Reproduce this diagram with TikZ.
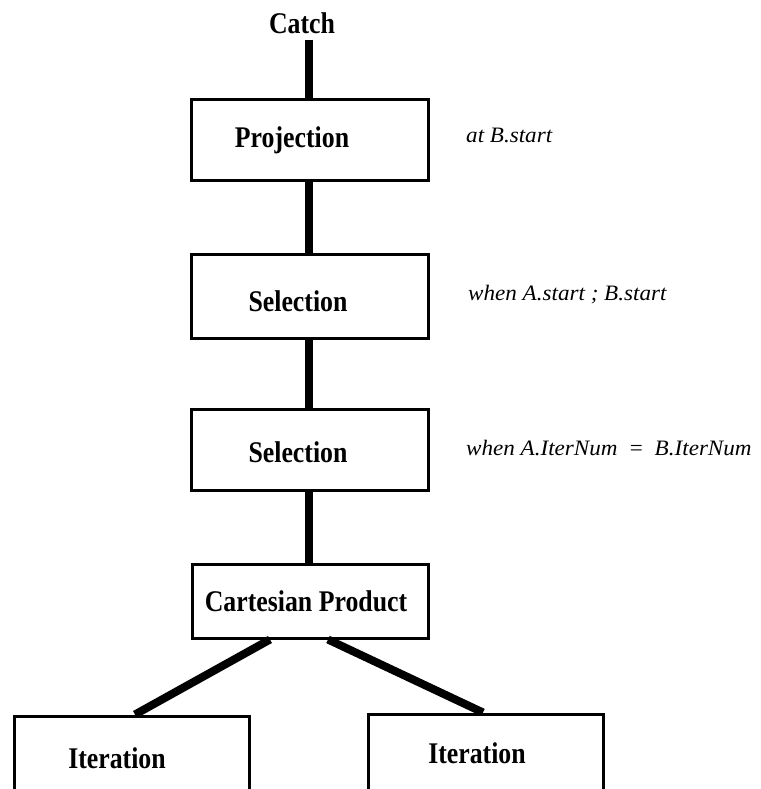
\documentclass[tikz,border=0pt]{standalone}
\usepackage{fontspec}
\setmainfont{Liberation Serif}
% narrow, tall bold face for the operator names; slightly wide italic for predicates
\newfontface\opfont[FakeStretch=0.86]{Liberation Serif Bold}
\newfontface\predfont[FakeStretch=1.05]{Liberation Serif Italic}
\begin{document}
\begin{tikzpicture}[x=1pt,y=-1pt,
  opbox/.style={draw, line width=3pt, inner sep=0pt},
  optext/.style={inner sep=0pt, font=\fontsize{30}{34}\opfont},
  link/.style={line width=8pt},
  cond/.style={anchor=west, inner sep=0pt, font=\fontsize{22}{26}\predfont}]
\useasboundingbox (0,0) rectangle (760,789);
\clip (0,0) rectangle (760,789);

% operator boxes
\node[opbox, minimum width=237pt, minimum height=80pt] (proj) at (309.5,140) {};
\node[opbox, minimum width=237pt, minimum height=84pt] (sel1) at (309.5,296) {};
\node[opbox, minimum width=237pt, minimum height=81pt] (sel2) at (309.5,449.5) {};
\node[opbox, minimum width=236pt, minimum height=74pt] (cart) at (310,601) {};
% leaf boxes run off the bottom edge
\node[opbox, minimum width=235pt, minimum height=140pt] (it1) at (131.5,786) {};
\node[opbox, minimum width=235pt, minimum height=140pt] (it2) at (485.5,784) {};

% operator names
\node[optext] (catch) at (302,23) {Catch};
\node[optext] (projtext) at (292,140.5) {Projection};
\node[optext] (sel1text) at (298,301) {Selection};
\node[optext] (sel2text) at (298,452) {Selection};
\node[optext] (carttext) at (306,601) {Cartesian Product};
\node[optext] (it1text) at (117,758) {Iteration};
\node[optext] (it2text) at (477,753) {Iteration};

% connectors
\draw[link, shorten <=6pt] ([xshift=6.5pt]catch.south) -- ([xshift=-1pt]proj.north);
\draw[link] ([xshift=-1pt]proj.south) -- ([xshift=-1pt]sel1.north);
\draw[link] ([xshift=-1pt]sel1.south) -- ([xshift=-1pt]sel2.north);
\draw[link] ([xshift=-1pt]sel2.south) -- ([xshift=-1.5pt]cart.north);
\draw[link] ([xshift=-40pt]cart.south) -- ([xshift=3.5pt]it1.north);
\draw[link] ([xshift=18pt]cart.south) -- ([xshift=-2.5pt]it2.north);

% predicates
\node[cond] (c1) at (466,135) {at B.start};
\node[cond] (c2) at (468,295) {when A.start ; B.start};
\node[cond] (c3) at (466,448) {when A.IterNum\hspace{5pt} = \hspace{5pt}B.IterNum};
\end{tikzpicture}
\end{document}
